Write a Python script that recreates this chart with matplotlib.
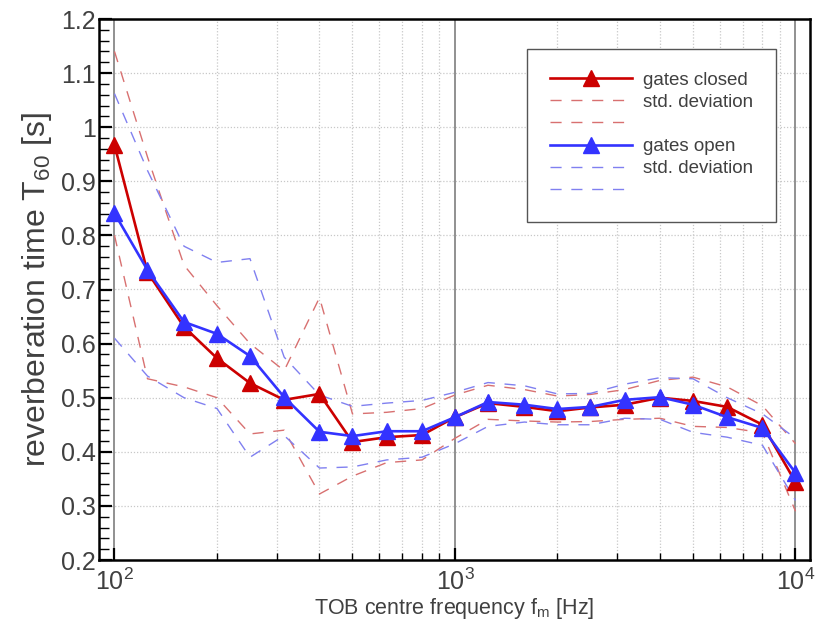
import numpy as np
import matplotlib.pyplot as plt
from matplotlib.lines import Line2D
from matplotlib.ticker import FixedLocator, NullFormatter

plt.rcParams["font.family"] = ["Liberation Sans", "DejaVu Sans"]
plt.rcParams["mathtext.fontset"] = "custom"
plt.rcParams["mathtext.rm"] = "Liberation Sans"
plt.rcParams["mathtext.it"] = "Liberation Sans"

# third-octave band centre frequencies [Hz]
freqs = [100, 125, 160, 200, 250, 315, 400, 500, 630, 800, 1000,
         1250, 1600, 2000, 2500, 3150, 4000, 5000, 6300, 8000, 10000]

# gates closed
closed = [0.967, 0.732, 0.631, 0.573, 0.527, 0.496, 0.507, 0.418, 0.427, 0.431, 0.464,
          0.490, 0.483, 0.475, 0.482, 0.487, 0.500, 0.494, 0.483, 0.450, 0.344]
closed_hi = [1.140, 0.945, 0.745, 0.670, 0.600, 0.550, 0.685, 0.470, 0.473, 0.480, 0.505,
             0.523, 0.515, 0.503, 0.506, 0.515, 0.532, 0.538, 0.520, 0.485, 0.415]
closed_lo = [0.800, 0.535, 0.520, 0.500, 0.433, 0.440, 0.322, 0.355, 0.380, 0.385, 0.425,
             0.460, 0.457, 0.455, 0.456, 0.460, 0.462, 0.447, 0.445, 0.435, 0.290]

# gates open
opened = [0.841, 0.736, 0.640, 0.618, 0.577, 0.501, 0.437, 0.429, 0.438, 0.438, 0.464,
          0.492, 0.487, 0.479, 0.483, 0.496, 0.501, 0.487, 0.464, 0.444, 0.361]
opened_hi = [1.062, 0.920, 0.780, 0.750, 0.757, 0.575, 0.505, 0.484, 0.490, 0.495, 0.510,
             0.528, 0.522, 0.507, 0.508, 0.525, 0.537, 0.535, 0.500, 0.470, 0.425]
opened_lo = [0.610, 0.540, 0.500, 0.480, 0.390, 0.430, 0.370, 0.372, 0.385, 0.390, 0.415,
             0.447, 0.455, 0.450, 0.450, 0.462, 0.460, 0.436, 0.427, 0.412, 0.310]

red = "#cc0000"
blue = "#3333ff"
red_d = "#d87070"
blue_d = "#8080f0"
txt = "#404040"

fig = plt.figure(figsize=(8.17, 6.24), dpi=100)
ax = fig.add_axes([99 / 817, 1 - 560 / 624, 711 / 817, 541 / 624])

ax.set_xscale("log")
ax.set_xlim(10 ** 1.9545, 10 ** 4.0426)
ax.set_ylim(0.2, 1.2)

# grid: solid at decades, dotted elsewhere
minor_x = [m * 10 ** d for d in (2, 3) for m in range(2, 10)]
for xv in minor_x:
    ax.axvline(xv, color="#c8c8c8", lw=0.9, ls=(0, (1, 1.5)), zorder=0)
for xv in (100, 1000, 10000):
    ax.axvline(xv, color="#909090", lw=1.4, zorder=0.5)
for yv in np.arange(0.3, 1.2, 0.1):
    ax.axhline(yv, color="#c8c8c8", lw=0.9, ls=(0, (1, 1.5)), zorder=0)

dash = (0, (8, 7))
ax.plot(freqs, closed_hi, color=red_d, lw=1.0, ls=dash, zorder=2)
ax.plot(freqs, closed_lo, color=red_d, lw=1.0, ls=dash, zorder=2)
ax.plot(freqs, opened_hi, color=blue_d, lw=1.0, ls=dash, zorder=2)
ax.plot(freqs, opened_lo, color=blue_d, lw=1.0, ls=dash, zorder=2)
ax.plot(freqs, closed, color=red, lw=1.9, marker="^", ms=11, zorder=3)
ax.plot(freqs, opened, color=blue, lw=1.9, marker="^", ms=11, zorder=4)

# ticks
ax.xaxis.set_major_locator(FixedLocator([100, 1000, 10000]))
ax.xaxis.set_minor_locator(FixedLocator(minor_x))
ax.xaxis.set_minor_formatter(NullFormatter())
ax.set_xticklabels([r"$10^2$", r"$10^3$", r"$10^4$"])
ax.set_yticks(np.round(np.arange(0.2, 1.21, 0.1), 1))
ax.set_yticklabels(["0.2", "0.3", "0.4", "0.5", "0.6", "0.7", "0.8", "0.9", "1", "1.1", "1.2"])
ax.yaxis.set_minor_locator(FixedLocator(np.arange(0.2, 1.2, 0.02)))
ax.tick_params(which="major", direction="in", length=9, width=1.6, labelsize=18,
               labelcolor=txt)
ax.tick_params(axis="y", which="major", pad=2)
ax.tick_params(axis="x", which="major", pad=6)
ax.tick_params(which="minor", direction="in", length=5, width=1.0)
ax.tick_params(axis="y", which="minor", length=7)

for s in ax.spines.values():
    s.set_linewidth(1.8)

ax.set_ylabel(r"reverberation time T$_{60}$ [s]", fontsize=23, color=txt, labelpad=5)
ax.set_xlabel(r"TOB centre frequency f$_\mathrm{m}$ [Hz]", fontsize=15.5, color=txt, labelpad=1)

# legend
handles = [
    Line2D([], [], color=red, lw=1.9, marker="^", ms=11),
    Line2D([], [], color=red_d, lw=1.0, ls=dash),
    Line2D([], [], color=red_d, lw=1.0, ls=dash),
    Line2D([], [], color=blue, lw=1.9, marker="^", ms=11),
    Line2D([], [], color=blue_d, lw=1.0, ls=dash),
    Line2D([], [], color=blue_d, lw=1.0, ls=dash),
]
labels = ["gates closed", "std. deviation", "", "gates open", "std. deviation", ""]
leg = ax.legend(handles, labels, loc="upper left", bbox_to_anchor=(527 / 817, 1 - 49 / 624),
                bbox_transform=fig.transFigure, fontsize=13.5, handlelength=4.4,
                labelspacing=0.27, fancybox=False, framealpha=1, edgecolor="#555555",
                borderpad=1.2, borderaxespad=0, handletextpad=0.6, numpoints=1)
leg.get_frame().set_linewidth(1.0)
for t in leg.get_texts():
    t.set_color(txt)

fig.savefig("out.png", dpi=100)
